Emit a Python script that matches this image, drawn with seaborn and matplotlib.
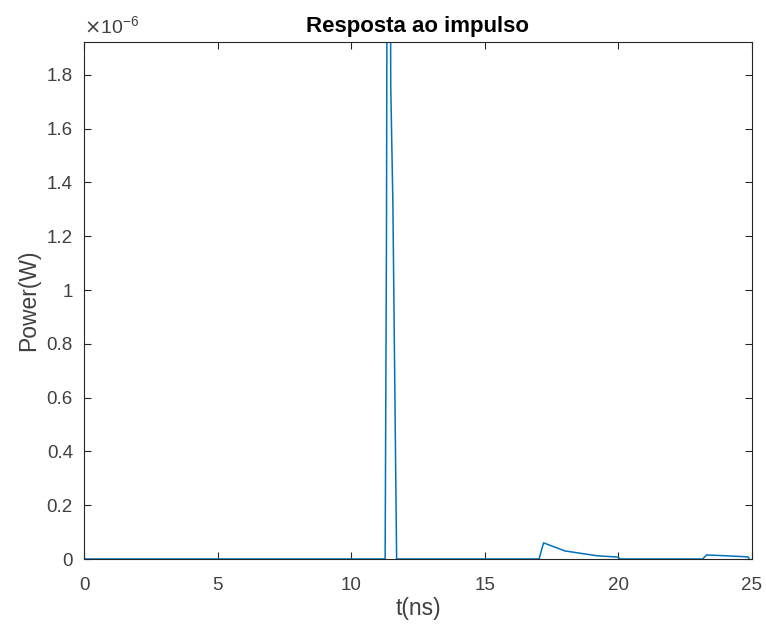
import matplotlib
matplotlib.use("Agg")
import matplotlib.pyplot as plt
import seaborn as sns
import pandas as pd

# Data (power in units of 1e-6 W)
t_ns = [0.0, 11.27, 11.32, 11.40, 11.48, 11.56, 11.70,
        17.03, 17.20, 18.0, 19.2, 20.0, 20.05,
        23.15, 23.30, 24.0, 24.85, 24.9]
power_uW = [0.0, 0.0, 1.2, 5.0, 1.76, 1.32, 0.0,
            0.0, 0.060, 0.030, 0.012, 0.007, 0.0,
            0.0, 0.015, 0.012, 0.008, 0.0]

xticks = [0, 5, 10, 15, 20, 25]
yticks = [0, 0.2, 0.4, 0.6, 0.8, 1.0, 1.2, 1.4, 1.6, 1.8]
ytick_labels = ["0", "0.2", "0.4", "0.6", "0.8", "1", "1.2", "1.4", "1.6", "1.8"]

sns.set_style("white")
plt.rcParams["font.family"] = ["Liberation Sans", "DejaVu Sans"]

df = pd.DataFrame({"t": t_ns, "p": power_uW})

fig = plt.figure(figsize=(7.66, 6.26), dpi=100)
ax = fig.add_axes([84 / 766, (626 - 559) / 626, (752 - 84) / 766, (559 - 42) / 626])

sns.lineplot(data=df, x="t", y="p", ax=ax, color="#0072BD", linewidth=1.1,
             sort=False, estimator=None)

ax.set_xlim(0, 25)
ax.set_ylim(0, 1.922)
ax.set_xticks(xticks)
ax.set_xticklabels([str(v) for v in xticks])
ax.set_yticks(yticks)
ax.set_yticklabels(ytick_labels)

grey = "#262626"
for s in ax.spines.values():
    s.set_visible(True)
    s.set_color(grey)
    s.set_linewidth(0.8)
ax.tick_params(direction="in", length=5, width=0.8, colors=grey,
               labelsize=13.5, top=True, right=True, bottom=True, left=True,
               labelcolor="#404040")
ax.tick_params(axis="x", pad=13)
ax.tick_params(axis="y", pad=8)

ax.set_xlabel("t(ns)", fontsize=16.5, color="#404040", labelpad=2)
ax.set_ylabel("Power(W)", fontsize=16.5, color="#404040", labelpad=5)
ax.set_title("Resposta ao impulso", fontsize=16, fontweight="bold", color="black", pad=7)

ax.text(0.0, 1.01, r"$\times\mathregular{10^{-6}}$", transform=ax.transAxes,
        fontsize=14, color="#404040", ha="left", va="bottom")

fig.savefig("out.png", dpi=100)
